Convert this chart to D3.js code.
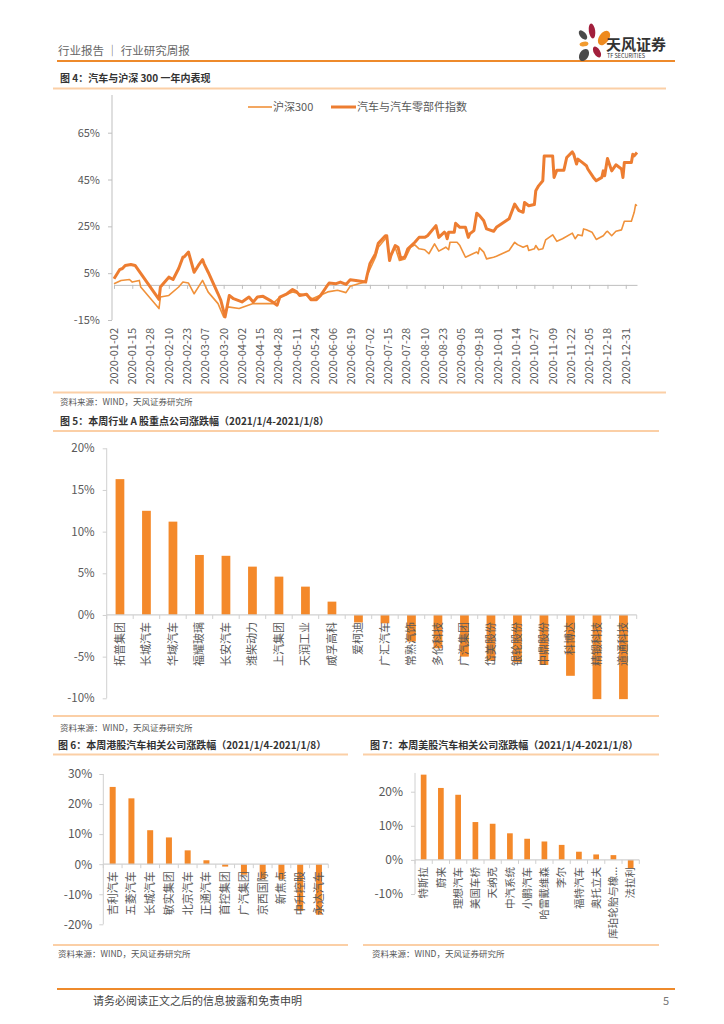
<!DOCTYPE html>
<html>
<head>
<meta charset="utf-8">
<script src="https://cdn.jsdelivr.net/npm/d3@7"></script>
<style>
  body { margin: 0; background: #fff; }
  svg text { font-family: "Noto Sans CJK SC", "Noto Sans", sans-serif; }
</style>
</head>
<body>
<svg id="page" width="724" height="1024"></svg>
<script>
// ---- data ----

// fig 4: cumulative return (%), 沪深300 vs 汽车与汽车零部件指数
var hs300 = [
  ["2020-01-02",0.5],["2020-01-07",1.9],["2020-01-13",2.3],["2020-01-15",1.2],["2020-01-20",1.9],
  ["2020-01-21",-0.9],["2020-02-03",-10.1],["2020-02-04",-5.2],["2020-02-10",-4.5],["2020-02-17",-0.9],
  ["2020-02-20",1.2],["2020-02-24",0.8],["2020-02-28",-3.8],["2020-03-05",1.9],["2020-03-09",-3.1],
  ["2020-03-16",-8.0],["2020-03-19",-12.3],["2020-03-20",-13.7],["2020-03-23",-9.4],["2020-03-31",-10.1],
  ["2020-04-10",-8.0],["2020-04-24",-8.0],["2020-04-29",-5.2],["2020-05-08",-3.0],["2020-05-18",-4.5],
  ["2020-05-22",-5.9],["2020-06-02",-3.0],["2020-06-09",-2.3],["2020-06-15",-3.3],["2020-06-18",-0.6],
  ["2020-06-24",0.5],["2020-06-29",1.2],["2020-06-30",4.0],["2020-07-06",11.8],["2020-07-08",16.1],
  ["2020-07-13",19.7],["2020-07-14",20.3],["2020-07-16",11.1],["2020-07-20",16.1],["2020-07-23",10.4],
  ["2020-07-27",11.1],["2020-07-31",16.1],["2020-08-03",17.1],["2020-08-06",15.4],["2020-08-10",15.0],
  ["2020-08-13",13.3],["2020-08-17",17.5],["2020-08-20",14.4],["2020-08-25",16.1],["2020-08-27",15.0],
  ["2020-08-28",18.2],["2020-09-02",18.2],["2020-09-04",16.8],["2020-09-08",11.8],["2020-09-14",13.5],
  ["2020-09-16",14.0],["2020-09-17",13.3],["2020-09-18",15.8],["2020-09-21",14.0],["2020-09-23",11.1],
  ["2020-09-28",11.8],["2020-09-30",12.2],["2020-10-09",14.7],["2020-10-13",18.2],["2020-10-15",17.2],
  ["2020-10-19",16.1],["2020-10-22",16.8],["2020-10-23",14.7],["2020-10-27",15.4],["2020-10-28",16.8],
  ["2020-10-30",15.0],["2020-11-02",15.4],["2020-11-04",19.2],["2020-11-09",21.4],["2020-11-12",18.6],
  ["2020-11-16",19.7],["2020-11-23",22.1],["2020-11-25",19.7],["2020-11-27",21.4],["2020-11-30",21.0],
  ["2020-12-01",23.9],["2020-12-03",23.5],["2020-12-07",22.5],["2020-12-10",19.4],["2020-12-15",21.0],
  ["2020-12-17",22.5],["2020-12-18",22.9],["2020-12-21",21.0],["2020-12-24",22.9],["2020-12-28",23.5],
  ["2020-12-30",27.2],["2021-01-04",27.2],["2021-01-06",31.0],["2021-01-07",34.3],["2021-01-08",33.8]
];
var autoIdx = [
  ["2020-01-02",2.6],["2020-01-06",6.5],["2020-01-08",7.0],["2020-01-10",8.3],["2020-01-14",8.7],
  ["2020-01-17",8.3],["2020-01-21",4.9],["2020-02-03",-6.2],["2020-02-04",-0.9],["2020-02-10",3.3],
  ["2020-02-13",2.3],["2020-02-17",7.0],["2020-02-20",11.8],["2020-02-21",12.0],["2020-02-24",14.0],
  ["2020-02-25",11.8],["2020-02-28",5.4],["2020-03-02",8.3],["2020-03-05",10.8],["2020-03-06",9.1],
  ["2020-03-09",5.4],["2020-03-16",-3.8],["2020-03-18",-6.6],["2020-03-21",-13.7],["2020-03-24",-4.5],
  ["2020-03-27",-5.9],["2020-04-02",-7.3],["2020-04-07",-5.2],["2020-04-10",-7.3],["2020-04-13",-5.2],
  ["2020-04-17",-4.9],["2020-04-22",-6.6],["2020-04-27",-8.7],["2020-04-29",-5.2],["2020-05-04",-3.8],
  ["2020-05-08",-2.0],["2020-05-11",-3.0],["2020-05-13",-4.5],["2020-05-18",-4.0],["2020-05-21",-6.3],
  ["2020-05-25",-6.3],["2020-05-28",-4.5],["2020-06-01",-0.9],["2020-06-03",0.8],["2020-06-08",0.5],
  ["2020-06-11",1.2],["2020-06-15",0.2],["2020-06-18",2.2],["2020-06-22",1.9],["2020-06-29",1.2],
  ["2020-06-30",4.0],["2020-07-02",9.0],["2020-07-06",13.3],["2020-07-08",17.8],["2020-07-13",21.0],
  ["2020-07-14",21.0],["2020-07-16",10.4],["2020-07-17",12.6],["2020-07-20",16.8],["2020-07-22",16.1],
  ["2020-07-24",11.1],["2020-07-27",12.1],["2020-07-29",15.4],["2020-08-03",18.2],["2020-08-06",20.3],
  ["2020-08-10",20.3],["2020-08-12",21.0],["2020-08-18",25.3],["2020-08-20",20.3],["2020-08-24",22.5],
  ["2020-08-25",21.8],["2020-08-26",19.7],["2020-08-27",22.5],["2020-08-31",22.5],["2020-09-01",26.3],
  ["2020-09-04",24.6],["2020-09-08",24.6],["2020-09-10",20.3],["2020-09-11",21.8],["2020-09-14",23.2],
  ["2020-09-16",30.6],["2020-09-18",29.6],["2020-09-21",27.4],["2020-09-23",23.9],["2020-09-28",22.9],
  ["2020-09-30",24.6],["2020-10-09",28.2],["2020-10-13",34.5],["2020-10-16",31.7],["2020-10-19",31.0],
  ["2020-10-20",35.2],["2020-10-23",33.8],["2020-10-27",34.3],["2020-10-28",40.2],["2020-10-30",42.3],
  ["2020-11-02",44.5],["2020-11-03",55.1],["2020-11-09",55.1],["2020-11-10",45.9],["2020-11-12",49.0],
  ["2020-11-17",49.0],["2020-11-19",54.4],["2020-11-23",56.8],["2020-11-24",55.8],["2020-11-26",51.6],
  ["2020-11-27",53.7],["2020-11-30",52.3],["2020-12-03",50.9],["2020-12-04",49.5],["2020-12-08",45.9],
  ["2020-12-10",44.5],["2020-12-14",45.9],["2020-12-15",48.7],["2020-12-16",46.6],["2020-12-18",54.0],
  ["2020-12-21",48.7],["2020-12-24",51.3],["2020-12-28",49.5],["2020-12-29",45.9],["2020-12-30",52.3],
  ["2021-01-04",52.3],["2021-01-05",55.8],["2021-01-06",55.1],["2021-01-08",56.5]
];
var dateTicks = ["2020-01-02","2020-01-15","2020-01-28","2020-02-10","2020-02-23","2020-03-07",
  "2020-03-20","2020-04-02","2020-04-15","2020-04-28","2020-05-11","2020-05-24","2020-06-06",
  "2020-06-19","2020-07-02","2020-07-15","2020-07-28","2020-08-10","2020-08-23","2020-09-05",
  "2020-09-18","2020-10-01","2020-10-14","2020-10-27","2020-11-09","2020-11-22","2020-12-05",
  "2020-12-18","2020-12-31"];
var pctTicks4 = [-15, 5, 25, 45, 65];

// fig 5: A-share weekly change (%)
var aCats = ["拓普集团","长城汽车","华域汽车","福耀玻璃","长安汽车","潍柴动力","上汽集团","天润工业",
  "威孚高科","爱柯迪","广汇汽车","常熟汽饰","多伦科技","广汽集团","岱美股份","银轮股份","中鼎股份",
  "科博达","精锻科技","道通科技"];
var aVals = [16.3, 12.5, 11.2, 7.2, 7.1, 5.8, 4.6, 3.4, 1.6, -0.9, -1.0, -3.2, -4.0, -5.0, -5.5, -5.7,
  -6.0, -7.3, -10.1, -10.1];
var pctTicks5 = [-10, -5, 0, 5, 10, 15, 20];

// fig 6: HK stocks
var hkCats = ["吉利汽车","五菱汽车","长城汽车","敏实集团","北京汽车","正通汽车","首控集团","广汽集团",
  "京西国际","新焦点","中升控股","永达汽车"];
var hkVals = [25.7, 21.9, 11.3, 8.9, 4.6, 1.3, -0.8, -3.5, -5.0, -5.0, -15.5, -16.8];
var pctTicks6 = [-20, -10, 0, 10, 20, 30];

// fig 7: US stocks
var usCats = ["特斯拉","蔚来","理想汽车","美国车桥","天纳克","中汽系统","小鹏汽车","哈雷戴维森","李尔",
  "福特汽车","奥托立夫","库珀轮胎与橡...","法拉利"];
var usVals = [25.0, 21.1, 19.1, 11.1, 10.6, 7.8, 6.2, 5.4, 4.4, 2.4, 1.6, 1.4, -2.5];
var pctTicks7 = [-10, 0, 10, 20];

// ---- page ----
var svg = d3.select("#page");
var orange = "#ED7D31";
var barColor = "#F4892A";
var peach = "#FBCFA6";
var textGray = "#595959";
var src = "资料来源：WIND，天风证券研究所";

svg.append("rect").attr("width", 724).attr("height", 1024).attr("fill", "#fff");

// header
svg.append("text").attr("x", 58).attr("y", 55).attr("font-size", 11.5).attr("fill", "#666")
  .attr("xml:space", "preserve").text("行业报告 ｜ 行业研究周报");
svg.append("line").attr("x1", 57).attr("x2", 675).attr("y1", 61).attr("y2", 61)
  .attr("stroke", "#EE8A2B").attr("stroke-width", 2);

// logo petals
var petals = [
  {cx: 592, cy: 31, rx: 3.2, ry: 7.5, r: -8, c: "#A21F3C"},
  {cx: 604, cy: 38, rx: 5, ry: 8, r: 35, c: "#EE8A1E"},
  {cx: 583, cy: 35, rx: 3, ry: 5.5, r: -40, c: "#4A4A4A"},
  {cx: 584, cy: 44, rx: 4.5, ry: 2.4, r: -10, c: "#F29B2E"},
  {cx: 597, cy: 52, rx: 3.2, ry: 6, r: -30, c: "#A21F3C"},
  {cx: 584, cy: 55, rx: 4.5, ry: 6.5, r: 30, c: "#4A4A4A"}
];
svg.append("g").selectAll("ellipse").data(petals).enter().append("ellipse")
  .attr("cx", d => d.cx).attr("cy", d => d.cy).attr("rx", d => d.rx).attr("ry", d => d.ry)
  .attr("transform", d => `rotate(${d.r},${d.cx},${d.cy})`)
  .attr("fill", d => d.c);
svg.append("text").attr("x", 606).attr("y", 50).attr("font-size", 15).attr("font-weight", "bold")
  .attr("fill", "#333").text("天风证券");
svg.append("text").attr("x", 607).attr("y", 58).attr("font-size", 5.5).attr("fill", "#333")
  .text("TF SECURITIES");

function title(x, y, t) {
  svg.append("text").attr("x", x).attr("y", y).attr("font-size", 10).attr("font-weight", "bold")
    .attr("fill", "#333").text(t);
}
function rule(x1, x2, y, c, w) {
  svg.append("line").attr("x1", x1).attr("x2", x2).attr("y1", y).attr("y2", y)
    .attr("stroke", c).attr("stroke-width", w);
}
function source(x, y) {
  svg.append("text").attr("x", x).attr("y", y).attr("font-size", 8.5).attr("fill", "#555").text(src);
}

// ---- figure 4 ----
title(60, 82, "图 4：汽车与沪深 300 一年内表现");
rule(53, 666, 88.5, peach, 2);
rule(53, 666, 392.5, peach, 2);
source(60, 405);

var parse = d3.timeParse("%Y-%m-%d");
var x4 = d3.scaleTime().domain([parse("2020-01-02"), parse("2021-01-08")]).range([114, 637]);
var y4 = d3.scaleLinear().domain([-15, 65]).range([320, 132.7]);

var g4 = svg.append("g");
var yAxis4 = g4.append("g").attr("transform", "translate(112,0)")
  .call(d3.axisLeft(y4).tickValues(pctTicks4).tickFormat(d => d + "%").tickSize(4).tickPadding(8));
yAxis4.select(".domain").remove();
g4.append("line").attr("x1", 112).attr("x2", 112).attr("y1", 95).attr("y2", 320)
  .attr("stroke", "#BFBFBF");

g4.append("g").attr("transform", `translate(0,${y4(0)})`)
  .call(d3.axisBottom(x4).tickValues(dateTicks.map(parse)).tickFormat("").tickSize(4).tickSizeOuter(0));
g4.selectAll(".domain, .tick line").attr("stroke", "#BFBFBF");
g4.selectAll(".tick text").attr("fill", textGray).attr("font-size", 11)
  .attr("font-family", "'Noto Sans', sans-serif");

g4.append("g").selectAll("text").data(dateTicks).enter().append("text")
  .attr("transform", d => `translate(${x4(parse(d))},328) rotate(-90)`)
  .attr("text-anchor", "end").attr("dy", "0.35em")
  .attr("font-size", 11).attr("fill", textGray).attr("font-family", "'Noto Sans', sans-serif")
  .text(d => d);

var line4 = d3.line().x(d => x4(parse(d[0]))).y(d => y4(d[1]));
g4.append("path").datum(hs300).attr("d", line4).attr("fill", "none")
  .attr("stroke", "#F0913A").attr("stroke-width", 1.6).attr("stroke-linejoin", "round");
g4.append("path").datum(autoIdx).attr("d", line4).attr("fill", "none")
  .attr("stroke", orange).attr("stroke-width", 3).attr("stroke-linejoin", "round");

// legend
g4.append("line").attr("x1", 248).attr("x2", 272).attr("y1", 107).attr("y2", 107)
  .attr("stroke", "#F0913A").attr("stroke-width", 1.6);
g4.append("text").attr("x", 273).attr("y", 111).attr("font-size", 11).attr("fill", textGray).text("沪深300");
g4.append("line").attr("x1", 331).attr("x2", 356).attr("y1", 107).attr("y2", 107)
  .attr("stroke", orange).attr("stroke-width", 3);
g4.append("text").attr("x", 357).attr("y", 111).attr("font-size", 11).attr("fill", textGray)
  .text("汽车与汽车零部件指数");

// ---- bar chart helper ----
function barChart(opt) {
  var g = svg.append("g");
  var x = d3.scaleBand().domain(opt.cats).range(opt.xr).paddingInner(opt.pad).paddingOuter(opt.pad / 2);
  var y = d3.scaleLinear().domain(opt.domain).range(opt.yr);

  var ya = g.append("g").attr("transform", `translate(${opt.xr[0]},0)`)
    .call(d3.axisLeft(y).tickValues(opt.ticks).tickFormat(d => d + "%").tickSize(4).tickPadding(opt.tp));
  ya.select(".domain").remove();
  ya.selectAll(".tick line").attr("stroke", "#D0D0D0");
  ya.selectAll(".tick text").attr("fill", textGray).attr("font-size", opt.fs)
    .attr("font-family", "'Noto Sans', sans-serif");
  g.append("line").attr("x1", opt.xr[0]).attr("x2", opt.xr[0])
    .attr("y1", y(opt.top)).attr("y2", opt.yr[0]).attr("stroke", "#D0D0D0");

  g.selectAll("rect.bar").data(opt.vals).enter().append("rect").attr("class", "bar")
    .attr("x", (d, i) => x(opt.cats[i]))
    .attr("width", x.bandwidth())
    .attr("y", d => y(Math.max(0, d)))
    .attr("height", d => Math.abs(y(d) - y(0)))
    .attr("fill", barColor);

  // category axis: line at 0 with ticks on category boundaries
  var bounds = d3.range(opt.cats.length + 1).map(i => opt.xr[0] + i * x.step());
  g.append("line").attr("x1", opt.xr[0]).attr("x2", opt.xr[1]).attr("y1", y(0)).attr("y2", y(0))
    .attr("stroke", "#D0D0D0").attr("stroke-width", 1.2);
  g.selectAll("line.bt").data(bounds).enter().append("line").attr("class", "bt")
    .attr("x1", d => d).attr("x2", d => d).attr("y1", y(0)).attr("y2", y(0) + 4)
    .attr("stroke", "#D0D0D0");

  g.selectAll("text.cat").data(opt.cats).enter().append("text").attr("class", "cat")
    .attr("transform", d => `translate(${x(d) + x.bandwidth() / 2},${y(0) + opt.lo}) rotate(-90)`)
    .attr("text-anchor", "end").attr("dy", "0.36em")
    .attr("font-size", opt.cfs).attr("fill", textGray)
    .text(d => d);
}

// ---- figure 5 ----
title(60, 425, "图 5：本周行业 A 股重点公司涨跌幅（2021/1/4-2021/1/8）");
rule(53, 659, 431, peach, 2);
rule(53, 659, 716, peach, 2);
source(60, 731);
barChart({cats: aCats, vals: aVals, xr: [106.7, 636.7], pad: 0.67, domain: [-10, 20], yr: [698.3, 448.3],
  ticks: pctTicks5, top: 20, tp: 8, fs: 11.5, cfs: 11, lo: 7});

// ---- figure 6 ----
title(58, 749, "图 6：本周港股汽车相关公司涨跌幅（2021/1/4-2021/1/8）");
rule(53, 348, 754.5, peach, 2);
rule(53, 348, 945, peach, 2);
source(58, 957);
barChart({cats: hkCats, vals: hkVals, xr: [103.3, 328.3], pad: 0.68, domain: [-20, 30], yr: [924.3, 774],
  ticks: pctTicks6, top: 30, tp: 7, fs: 12, cfs: 11, lo: 7});

// ---- figure 7 ----
title(370, 749, "图 7：本周美股汽车相关公司涨跌幅（2021/1/4-2021/1/8）");
rule(363, 659, 754.5, peach, 2);
rule(363, 659, 945, peach, 2);
source(372, 957);
barChart({cats: usCats, vals: usVals, xr: [415, 639.3], pad: 0.67, domain: [-10, 20], yr: [894, 791.7],
  ticks: pctTicks7, top: 25.5, tp: 8, fs: 12, cfs: 10.5, lo: 7});

// ---- footer ----
svg.append("line").attr("x1", 57).attr("x2", 675).attr("y1", 989).attr("y2", 989)
  .attr("stroke", "#EE8A2B").attr("stroke-width", 2);
svg.append("text").attr("x", 93).attr("y", 1005).attr("font-size", 11).attr("fill", "#444")
  .text("请务必阅读正文之后的信息披露和免责申明");
svg.append("text").attr("x", 669).attr("y", 1005).attr("font-size", 11).attr("fill", "#777")
  .attr("text-anchor", "end").text("5");
</script>
</body>
</html>
